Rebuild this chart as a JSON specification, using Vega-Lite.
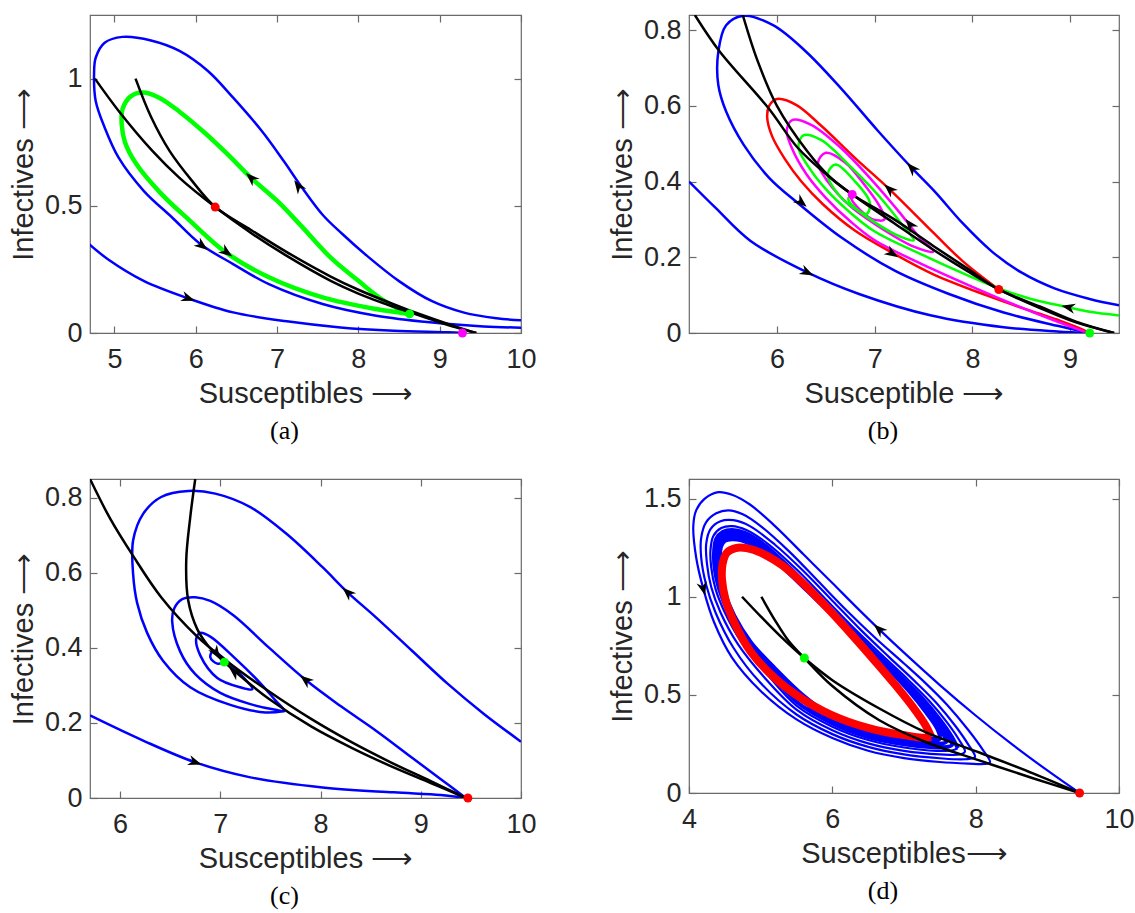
{
"$schema": "https://vega.github.io/schema/vega-lite/v6.json",
"background": "white",
"padding": {"left": 8, "top": 13, "right": 2, "bottom": 2},
"columns": 2,
"spacing": {"row": 146, "column": 168},
"bounds": "flush",
"resolve": {"scale": {"color": "independent"}},
"config": {
  "view": {"stroke": "#6a6a6a", "strokeWidth": 1.2},
  "axis": {"grid": false, "domain": false, "tickColor": "#6a6a6a", "tickSize": -7, "tickWidth": 1.2,
    "labelFont": "Liberation Sans", "labelFontSize": 27, "labelColor": "#262626", "labelFlush": false,
    "titleFont": "Liberation Sans", "titleFontSize": 29, "titleFontWeight": "normal", "titleColor": "#262626"},
  "title": {"font": "Liberation Serif", "fontSize": 26, "fontWeight": "normal", "color": "#000000", "orient": "bottom", "offset": 10, "frame": "group", "anchor": "middle", "dx": -21}
},
"datasets": {
"a_lines": [
{"c":"B1","s":10,"i":0.05},{"c":"B1","s":9.7,"i":0.058},{"c":"B1","s":9.3,"i":0.08},{"c":"B1","s":8.9,"i":0.126},{"c":"B1","s":8.5,"i":0.204},{"c":"B1","s":8.1,"i":0.305},{"c":"B1","s":7.8,"i":0.39},{"c":"B1","s":7.56,"i":0.465},{"c":"B1","s":7.3,"i":0.575},{"c":"B1","s":7.08,"i":0.677},{"c":"B1","s":6.81,"i":0.795},{"c":"B1","s":6.46,"i":0.925},{"c":"B1","s":6.15,"i":1.03},{"c":"B1","s":5.8,"i":1.109},{"c":"B1","s":5.45,"i":1.15},{"c":"B1","s":5.1,"i":1.164},{"c":"B1","s":4.88,"i":1.141},{"c":"B1","s":4.77,"i":1.082},{"c":"B1","s":4.75,"i":1.017},{"c":"B1","s":4.77,"i":0.912},{"c":"B1","s":4.88,"i":0.808},{"c":"B1","s":5.05,"i":0.69},{"c":"B1","s":5.36,"i":0.559},{"c":"B1","s":5.71,"i":0.454},{"c":"B1","s":6.06,"i":0.349},{"c":"B1","s":6.46,"i":0.271},{"c":"B1","s":6.9,"i":0.192},{"c":"B1","s":7.56,"i":0.114},{"c":"B1","s":8.22,"i":0.068},{"c":"B1","s":8.88,"i":0.042},{"c":"B1","s":9.54,"i":0.026},{"c":"B1","s":10,"i":0.021},
{"c":"B2","s":4.69,"i":0.349},{"c":"B2","s":4.92,"i":0.29},{"c":"B2","s":5.36,"i":0.205},{"c":"B2","s":5.91,"i":0.136},{"c":"B2","s":6.46,"i":0.081},{"c":"B2","s":7.12,"i":0.046},{"c":"B2","s":7.78,"i":0.022},{"c":"B2","s":8.44,"i":0.009},{"c":"B2","s":9.1,"i":0.003},{"c":"B2","s":9.28,"i":0},
{"c":"G","s":8.62,"i":0.075},{"c":"G","s":8.3,"i":0.13},{"c":"G","s":8.0,"i":0.205},{"c":"G","s":7.66,"i":0.296},{"c":"G","s":7.3,"i":0.42},{"c":"G","s":7.0,"i":0.52},{"c":"G","s":6.68,"i":0.61},{"c":"G","s":6.4,"i":0.7},{"c":"G","s":6.1,"i":0.79},{"c":"G","s":5.8,"i":0.87},{"c":"G","s":5.55,"i":0.925},{"c":"G","s":5.35,"i":0.945},{"c":"G","s":5.2,"i":0.93},{"c":"G","s":5.1,"i":0.88},{"c":"G","s":5.09,"i":0.82},{"c":"G","s":5.13,"i":0.75},{"c":"G","s":5.27,"i":0.664},{"c":"G","s":5.58,"i":0.546},{"c":"G","s":5.93,"i":0.441},{"c":"G","s":6.37,"i":0.317},{"c":"G","s":6.9,"i":0.219},{"c":"G","s":7.56,"i":0.14},{"c":"G","s":8.22,"i":0.094},{"c":"G","s":8.62,"i":0.075},
{"c":"K1","s":4.76,"i":1.0},{"c":"K1","s":5.06,"i":0.87},{"c":"K1","s":5.47,"i":0.715},{"c":"K1","s":5.8,"i":0.61},{"c":"K1","s":6.24,"i":0.495},{"c":"K1","s":6.68,"i":0.393},{"c":"K1","s":7.12,"i":0.303},{"c":"K1","s":7.66,"i":0.205},{"c":"K1","s":8.0,"i":0.155},{"c":"K1","s":8.44,"i":0.102},{"c":"K1","s":8.62,"i":0.083},{"c":"K1","s":8.88,"i":0.055},{"c":"K1","s":9.2,"i":0.022},{"c":"K1","s":9.45,"i":0},
{"c":"K2","s":5.26,"i":1.0},{"c":"K2","s":5.45,"i":0.85},{"c":"K2","s":5.68,"i":0.715},{"c":"K2","s":5.95,"i":0.6},{"c":"K2","s":6.24,"i":0.495},{"c":"K2","s":6.68,"i":0.405},{"c":"K2","s":7.12,"i":0.318},{"c":"K2","s":7.66,"i":0.222},{"c":"K2","s":8.0,"i":0.17},{"c":"K2","s":8.44,"i":0.112},{"c":"K2","s":8.62,"i":0.09},{"c":"K2","s":8.88,"i":0.06},{"c":"K2","s":9.2,"i":0.025},{"c":"K2","s":9.45,"i":0}
],
"a_pts": [{"p":"P1","s":6.24,"i":0.495},{"p":"P2","s":8.63,"i":0.075},{"p":"P3","s":9.28,"i":0}],
"a_arrows": [{"s":7.26,"i":0.578,"dir":235},{"s":6.68,"i":0.61,"dir":223},{"s":6.08,"i":0.343,"dir":37},{"s":6.38,"i":0.317,"dir":36},{"s":5.91,"i":0.136,"dir":19}],
"b_lines": [
{"c":"BO","s":9.5,"i":0.073},{"c":"BO","s":9.2,"i":0.09},{"c":"BO","s":8.84,"i":0.118},{"c":"BO","s":8.5,"i":0.16},{"c":"BO","s":8.2,"i":0.215},{"c":"BO","s":7.9,"i":0.29},{"c":"BO","s":7.62,"i":0.372},{"c":"BO","s":7.38,"i":0.436},{"c":"BO","s":7.03,"i":0.535},{"c":"BO","s":6.66,"i":0.645},{"c":"BO","s":6.29,"i":0.745},{"c":"BO","s":5.96,"i":0.813},{"c":"BO","s":5.66,"i":0.838},{"c":"BO","s":5.48,"i":0.813},{"c":"BO","s":5.4,"i":0.743},{"c":"BO","s":5.4,"i":0.655},{"c":"BO","s":5.48,"i":0.585},{"c":"BO","s":5.66,"i":0.497},{"c":"BO","s":5.92,"i":0.41},{"c":"BO","s":6.21,"i":0.344},{"c":"BO","s":6.66,"i":0.252},{"c":"BO","s":7.21,"i":0.164},{"c":"BO","s":7.76,"i":0.103},{"c":"BO","s":8.32,"i":0.054},{"c":"BO","s":8.87,"i":0.019},{"c":"BO","s":9.2,"i":0},
{"c":"BB","s":5.1,"i":0.4},{"c":"BB","s":5.37,"i":0.331},{"c":"BB","s":5.73,"i":0.243},{"c":"BB","s":6.31,"i":0.16},{"c":"BB","s":6.84,"i":0.103},{"c":"BB","s":7.58,"i":0.046},{"c":"BB","s":8.32,"i":0.015},{"c":"BB","s":8.87,"i":0.004},{"c":"BB","s":9.2,"i":0},
{"c":"R","s":8.27,"i":0.115},{"c":"R","s":7.9,"i":0.19},{"c":"R","s":7.6,"i":0.265},{"c":"R","s":7.15,"i":0.38},{"c":"R","s":6.8,"i":0.462},{"c":"R","s":6.45,"i":0.548},{"c":"R","s":6.2,"i":0.602},{"c":"R","s":6.0,"i":0.618},{"c":"R","s":5.92,"i":0.6},{"c":"R","s":5.9,"i":0.57},{"c":"R","s":5.95,"i":0.52},{"c":"R","s":6.08,"i":0.46},{"c":"R","s":6.25,"i":0.4},{"c":"R","s":6.47,"i":0.34},{"c":"R","s":6.8,"i":0.27},{"c":"R","s":7.18,"i":0.212},{"c":"R","s":7.6,"i":0.155},{"c":"R","s":8.16,"i":0.098},{"c":"R","s":8.6,"i":0.058},{"c":"R","s":8.9,"i":0.032},{"c":"R","s":9.1,"i":0.012},{"c":"R","s":9.2,"i":0},
{"c":"M","s":9.15,"i":0.003},{"c":"M","s":8.8,"i":0.037},{"c":"M","s":8.4,"i":0.078},{"c":"M","s":8.0,"i":0.122},{"c":"M","s":7.5,"i":0.18},{"c":"M","s":7.0,"i":0.245},{"c":"M","s":6.75,"i":0.295},{"c":"M","s":6.5,"i":0.357},{"c":"M","s":6.3,"i":0.42},{"c":"M","s":6.15,"i":0.49},{"c":"M","s":6.1,"i":0.535},{"c":"M","s":6.16,"i":0.563},{"c":"M","s":6.35,"i":0.55},{"c":"M","s":6.65,"i":0.49},{"c":"M","s":6.95,"i":0.41},{"c":"M","s":7.25,"i":0.32},{"c":"M","s":7.45,"i":0.255},{"c":"M","s":7.6,"i":0.215},{"c":"M","s":7.4,"i":0.228},{"c":"M","s":7.0,"i":0.288},{"c":"M","s":6.75,"i":0.335},{"c":"M","s":6.52,"i":0.4},{"c":"M","s":6.42,"i":0.45},{"c":"M","s":6.5,"i":0.476},{"c":"M","s":6.7,"i":0.45},{"c":"M","s":6.9,"i":0.39},{"c":"M","s":7.05,"i":0.335},{"c":"M","s":7.1,"i":0.3},{"c":"M","s":6.98,"i":0.3},{"c":"M","s":6.85,"i":0.325},{"c":"M","s":6.76,"i":0.355},{"c":"M","s":6.77,"i":0.366},
{"c":"G","s":9.52,"i":0.046},{"c":"G","s":9.2,"i":0.056},{"c":"G","s":8.98,"i":0.068},{"c":"G","s":8.6,"i":0.09},{"c":"G","s":8.27,"i":0.118},{"c":"G","s":7.9,"i":0.158},{"c":"G","s":7.5,"i":0.205},{"c":"G","s":7.0,"i":0.268},{"c":"G","s":6.75,"i":0.318},{"c":"G","s":6.5,"i":0.38},{"c":"G","s":6.32,"i":0.44},{"c":"G","s":6.22,"i":0.49},{"c":"G","s":6.27,"i":0.522},{"c":"G","s":6.45,"i":0.51},{"c":"G","s":6.75,"i":0.44},{"c":"G","s":7.05,"i":0.36},{"c":"G","s":7.3,"i":0.28},{"c":"G","s":7.4,"i":0.245},{"c":"G","s":7.2,"i":0.262},{"c":"G","s":6.9,"i":0.31},{"c":"G","s":6.65,"i":0.36},{"c":"G","s":6.52,"i":0.42},{"c":"G","s":6.6,"i":0.445},{"c":"G","s":6.8,"i":0.4},{"c":"G","s":6.95,"i":0.345},{"c":"G","s":6.92,"i":0.315},{"c":"G","s":6.8,"i":0.33},{"c":"G","s":6.73,"i":0.355},{"c":"G","s":6.77,"i":0.366},
{"c":"K1","s":5.16,"i":0.84},{"c":"K1","s":5.41,"i":0.745},{"c":"K1","s":5.91,"i":0.595},{"c":"K1","s":6.21,"i":0.49},{"c":"K1","s":6.5,"i":0.42},{"c":"K1","s":6.77,"i":0.366},{"c":"K1","s":7.2,"i":0.29},{"c":"K1","s":7.6,"i":0.22},{"c":"K1","s":7.95,"i":0.163},{"c":"K1","s":8.27,"i":0.115},{"c":"K1","s":8.69,"i":0.066},{"c":"K1","s":9.06,"i":0.028},{"c":"K1","s":9.45,"i":0},
{"c":"K2","s":5.65,"i":0.84},{"c":"K2","s":5.8,"i":0.72},{"c":"K2","s":6.0,"i":0.6},{"c":"K2","s":6.31,"i":0.48},{"c":"K2","s":6.55,"i":0.41},{"c":"K2","s":6.77,"i":0.366},{"c":"K2","s":7.2,"i":0.3},{"c":"K2","s":7.6,"i":0.23},{"c":"K2","s":7.95,"i":0.17},{"c":"K2","s":8.27,"i":0.115},{"c":"K2","s":8.69,"i":0.07},{"c":"K2","s":9.06,"i":0.03},{"c":"K2","s":9.45,"i":0}
],
"b_pts": [{"p":"P1","s":8.27,"i":0.115},{"p":"P2","s":6.77,"i":0.366},{"p":"P3","s":9.2,"i":0}],
"b_arrows": [{"s":7.38,"i":0.436,"dir":227},{"s":6.25,"i":0.345,"dir":40},{"s":6.31,"i":0.16,"dir":26},{"s":7.15,"i":0.38,"dir":223},{"s":7.18,"i":0.21,"dir":32},{"s":7.36,"i":0.287,"dir":232},{"s":8.98,"i":0.068,"dir":192}],
"c_lines": [
{"c":"T1","s":10,"i":0.15},{"c":"T1","s":9.63,"i":0.224},{"c":"T1","s":9.27,"i":0.304},{"c":"T1","s":8.91,"i":0.393},{"c":"T1","s":8.55,"i":0.482},{"c":"T1","s":8.27,"i":0.548},{"c":"T1","s":8.02,"i":0.615},{"c":"T1","s":7.66,"i":0.704},{"c":"T1","s":7.3,"i":0.775},{"c":"T1","s":6.95,"i":0.811},{"c":"T1","s":6.68,"i":0.818},{"c":"T1","s":6.41,"i":0.802},{"c":"T1","s":6.23,"i":0.757},{"c":"T1","s":6.13,"i":0.686},{"c":"T1","s":6.13,"i":0.597},{"c":"T1","s":6.17,"i":0.52},{"c":"T1","s":6.27,"i":0.44},{"c":"T1","s":6.43,"i":0.365},{"c":"T1","s":6.7,"i":0.295},{"c":"T1","s":7.1,"i":0.248},{"c":"T1","s":7.45,"i":0.228},{"c":"T1","s":7.64,"i":0.232},
{"c":"T2","s":9.45,"i":0},{"c":"T2","s":9.2,"i":0.05},{"c":"T2","s":8.9,"i":0.11},{"c":"T2","s":8.55,"i":0.18},{"c":"T2","s":8.2,"i":0.245},{"c":"T2","s":7.85,"i":0.315},{"c":"T2","s":7.48,"i":0.402},{"c":"T2","s":7.13,"i":0.487},{"c":"T2","s":6.9,"i":0.525},{"c":"T2","s":6.75,"i":0.535},{"c":"T2","s":6.62,"i":0.53},{"c":"T2","s":6.54,"i":0.505},{"c":"T2","s":6.52,"i":0.47},{"c":"T2","s":6.6,"i":0.39},{"c":"T2","s":6.75,"i":0.33},{"c":"T2","s":7.0,"i":0.28},{"c":"T2","s":7.3,"i":0.25},{"c":"T2","s":7.55,"i":0.235},{"c":"T2","s":7.64,"i":0.232},{"c":"T2","s":7.55,"i":0.26},{"c":"T2","s":7.41,"i":0.303},{"c":"T2","s":7.14,"i":0.374},{"c":"T2","s":6.9,"i":0.43},{"c":"T2","s":6.8,"i":0.44},{"c":"T2","s":6.76,"i":0.425},{"c":"T2","s":6.8,"i":0.38},{"c":"T2","s":6.97,"i":0.32},{"c":"T2","s":7.2,"i":0.295},{"c":"T2","s":7.32,"i":0.29},{"c":"T2","s":7.17,"i":0.338},{"c":"T2","s":7.0,"i":0.38},{"c":"T2","s":6.93,"i":0.393},{"c":"T2","s":6.9,"i":0.375},{"c":"T2","s":6.97,"i":0.358},{"c":"T2","s":7.04,"i":0.362},
{"c":"BB","s":5.7,"i":0.22},{"c":"BB","s":6.23,"i":0.153},{"c":"BB","s":6.75,"i":0.095},{"c":"BB","s":7.3,"i":0.055},{"c":"BB","s":8.02,"i":0.028},{"c":"BB","s":8.73,"i":0.015},{"c":"BB","s":9.2,"i":0.008},{"c":"BB","s":9.45,"i":0},
{"c":"K1","s":5.7,"i":0.85},{"c":"K1","s":5.9,"i":0.745},{"c":"K1","s":6.13,"i":0.645},{"c":"K1","s":6.41,"i":0.535},{"c":"K1","s":6.77,"i":0.43},{"c":"K1","s":7.04,"i":0.37},{"c":"K1","s":7.48,"i":0.285},{"c":"K1","s":7.91,"i":0.21},{"c":"K1","s":8.3,"i":0.15},{"c":"K1","s":8.7,"i":0.095},{"c":"K1","s":9.1,"i":0.045},{"c":"K1","s":9.45,"i":0},
{"c":"K2","s":6.75,"i":0.85},{"c":"K2","s":6.7,"i":0.748},{"c":"K2","s":6.66,"i":0.633},{"c":"K2","s":6.68,"i":0.526},{"c":"K2","s":6.77,"i":0.45},{"c":"K2","s":6.88,"i":0.405},{"c":"K2","s":6.97,"i":0.38},{"c":"K2","s":7.04,"i":0.362},
{"c":"K3","s":7.04,"i":0.362},{"c":"K3","s":7.2,"i":0.325},{"c":"K3","s":7.48,"i":0.265},{"c":"K3","s":7.91,"i":0.19},{"c":"K3","s":8.3,"i":0.135},{"c":"K3","s":8.7,"i":0.085},{"c":"K3","s":9.1,"i":0.04},{"c":"K3","s":9.45,"i":0}
],
"c_pts": [{"p":"P1","s":7.04,"i":0.362},{"p":"P2","s":9.47,"i":0}],
"c_arrows": [{"s":8.27,"i":0.548,"dir":223},{"s":7.85,"i":0.315,"dir":219},{"s":6.75,"i":0.095,"dir":19},{"s":6.96,"i":0.386,"dir":57},{"s":7.14,"i":0.336,"dir":221}],
"d_lines": [
{"c":"S1","s":9.45,"i":0},{"c":"S1","s":9.0,"i":0.115},{"c":"S1","s":8.5,"i":0.25},{"c":"S1","s":8.0,"i":0.395},{"c":"S1","s":7.5,"i":0.55},{"c":"S1","s":7.0,"i":0.715},{"c":"S1","s":6.65,"i":0.835},{"c":"S1","s":6.3,"i":0.96},{"c":"S1","s":6.0,"i":1.07},{"c":"S1","s":5.6,"i":1.215},{"c":"S1","s":5.2,"i":1.36},{"c":"S1","s":4.85,"i":1.47},{"c":"S1","s":4.6,"i":1.52},{"c":"S1","s":4.41,"i":1.533},{"c":"S1","s":4.22,"i":1.5},{"c":"S1","s":4.1,"i":1.44},{"c":"S1","s":4.06,"i":1.36},{"c":"S1","s":4.1,"i":1.2},{"c":"S1","s":4.2,"i":1.04},{"c":"S1","s":4.35,"i":0.87},{"c":"S1","s":4.6,"i":0.69},{"c":"S1","s":5.0,"i":0.52},{"c":"S1","s":5.5,"i":0.375},{"c":"S1","s":6.0,"i":0.28},{"c":"S1","s":6.5,"i":0.215},{"c":"S1","s":7.0,"i":0.178},{"c":"S1","s":7.5,"i":0.158},{"c":"S1","s":7.9,"i":0.15},{"c":"S1","s":8.12,"i":0.148},{"c":"S1","s":8.2,"i":0.156},
{"c":"S1","s":8.1,"i":0.22},{"c":"S1","s":7.9,"i":0.32},{"c":"S1","s":7.6,"i":0.45},{"c":"S1","s":7.3,"i":0.56},{"c":"S1","s":7.0,"i":0.66},{"c":"S1","s":6.6,"i":0.79},{"c":"S1","s":6.2,"i":0.93},{"c":"S1","s":5.8,"i":1.08},{"c":"S1","s":5.4,"i":1.23},{"c":"S1","s":5.0,"i":1.36},{"c":"S1","s":4.75,"i":1.42},{"c":"S1","s":4.55,"i":1.44},{"c":"S1","s":4.38,"i":1.425},{"c":"S1","s":4.24,"i":1.38},{"c":"S1","s":4.17,"i":1.3},{"c":"S1","s":4.17,"i":1.2},{"c":"S1","s":4.24,"i":1.06},{"c":"S1","s":4.37,"i":0.92},{"c":"S1","s":4.62,"i":0.74},{"c":"S1","s":5.0,"i":0.56},{"c":"S1","s":5.5,"i":0.4},{"c":"S1","s":6.0,"i":0.3},{"c":"S1","s":6.5,"i":0.235},{"c":"S1","s":7.0,"i":0.197},{"c":"S1","s":7.5,"i":0.177},{"c":"S1","s":7.85,"i":0.172},{"c":"S1","s":7.99,"i":0.183},
{"c":"S1","s":7.9,"i":0.245},{"c":"S1","s":7.72,"i":0.34},{"c":"S1","s":7.45,"i":0.46},{"c":"S1","s":7.15,"i":0.57},{"c":"S1","s":6.8,"i":0.69},{"c":"S1","s":6.4,"i":0.83},{"c":"S1","s":6.0,"i":0.98},{"c":"S1","s":5.6,"i":1.13},{"c":"S1","s":5.2,"i":1.265},{"c":"S1","s":4.85,"i":1.36},{"c":"S1","s":4.62,"i":1.39},{"c":"S1","s":4.44,"i":1.385},{"c":"S1","s":4.3,"i":1.345},{"c":"S1","s":4.24,"i":1.27},{"c":"S1","s":4.25,"i":1.17},{"c":"S1","s":4.31,"i":1.05},{"c":"S1","s":4.44,"i":0.92},{"c":"S1","s":4.68,"i":0.76},{"c":"S1","s":5.05,"i":0.59},{"c":"S1","s":5.5,"i":0.425},{"c":"S1","s":6.0,"i":0.32},{"c":"S1","s":6.5,"i":0.253},{"c":"S1","s":7.0,"i":0.215},{"c":"S1","s":7.5,"i":0.197},{"c":"S1","s":7.78,"i":0.196},{"c":"S1","s":7.85,"i":0.21},
{"c":"S1","s":7.77,"i":0.27},{"c":"S1","s":7.6,"i":0.36},{"c":"S1","s":7.35,"i":0.47},{"c":"S1","s":7.05,"i":0.58},{"c":"S1","s":6.7,"i":0.7},{"c":"S1","s":6.3,"i":0.84},{"c":"S1","s":5.9,"i":0.99},{"c":"S1","s":5.5,"i":1.14},{"c":"S1","s":5.1,"i":1.27},{"c":"S1","s":4.8,"i":1.34},{"c":"S1","s":4.6,"i":1.36},{"c":"S1","s":4.45,"i":1.35},{"c":"S1","s":4.34,"i":1.31},{"c":"S1","s":4.3,"i":1.24},{"c":"S1","s":4.31,"i":1.15},{"c":"S1","s":4.37,"i":1.04},{"c":"S1","s":4.5,"i":0.92},{"c":"S1","s":4.73,"i":0.77},{"c":"S1","s":5.08,"i":0.61},{"c":"S1","s":5.5,"i":0.445},{"c":"S1","s":6.0,"i":0.338},{"c":"S1","s":6.5,"i":0.27},{"c":"S1","s":7.0,"i":0.232},{"c":"S1","s":7.45,"i":0.215},{"c":"S1","s":7.68,"i":0.218},{"c":"S1","s":7.75,"i":0.228},
{"c":"S2","s":7.75,"i":0.228},{"c":"S2","s":7.67,"i":0.285},{"c":"S2","s":7.5,"i":0.375},{"c":"S2","s":7.25,"i":0.485},{"c":"S2","s":6.95,"i":0.595},{"c":"S2","s":6.6,"i":0.715},{"c":"S2","s":6.2,"i":0.855},{"c":"S2","s":5.8,"i":1.0},{"c":"S2","s":5.4,"i":1.15},{"c":"S2","s":5.05,"i":1.265},{"c":"S2","s":4.78,"i":1.325},{"c":"S2","s":4.6,"i":1.34},{"c":"S2","s":4.47,"i":1.33},{"c":"S2","s":4.38,"i":1.295},{"c":"S2","s":4.35,"i":1.23},{"c":"S2","s":4.36,"i":1.14},{"c":"S2","s":4.42,"i":1.04},{"c":"S2","s":4.55,"i":0.92},{"c":"S2","s":4.78,"i":0.775},{"c":"S2","s":5.12,"i":0.62},{"c":"S2","s":5.5,"i":0.465},{"c":"S2","s":6.0,"i":0.355},{"c":"S2","s":6.5,"i":0.285},{"c":"S2","s":7.0,"i":0.248},{"c":"S2","s":7.4,"i":0.233},{"c":"S2","s":7.6,"i":0.235},{"c":"S2","s":7.67,"i":0.245},
{"c":"S2","s":7.59,"i":0.3},{"c":"S2","s":7.42,"i":0.39},{"c":"S2","s":7.17,"i":0.5},{"c":"S2","s":6.88,"i":0.61},{"c":"S2","s":6.53,"i":0.73},{"c":"S2","s":6.13,"i":0.87},{"c":"S2","s":5.73,"i":1.015},{"c":"S2","s":5.33,"i":1.16},{"c":"S2","s":5.0,"i":1.26},{"c":"S2","s":4.76,"i":1.31},{"c":"S2","s":4.6,"i":1.322},{"c":"S2","s":4.48,"i":1.312},{"c":"S2","s":4.41,"i":1.28},{"c":"S2","s":4.38,"i":1.22},{"c":"S2","s":4.39,"i":1.13},{"c":"S2","s":4.45,"i":1.03},{"c":"S2","s":4.58,"i":0.915},{"c":"S2","s":4.81,"i":0.775},{"c":"S2","s":5.15,"i":0.63},{"c":"S2","s":5.55,"i":0.48},{"c":"S2","s":6.0,"i":0.37},{"c":"S2","s":6.5,"i":0.298},{"c":"S2","s":7.0,"i":0.262},{"c":"S2","s":7.35,"i":0.25},{"c":"S2","s":7.53,"i":0.252},{"c":"S2","s":7.59,"i":0.262},
{"c":"S2","s":7.52,"i":0.315},{"c":"S2","s":7.36,"i":0.4},{"c":"S2","s":7.12,"i":0.51},{"c":"S2","s":6.83,"i":0.62},{"c":"S2","s":6.48,"i":0.74},{"c":"S2","s":6.08,"i":0.88},{"c":"S2","s":5.68,"i":1.02},{"c":"S2","s":5.28,"i":1.165},{"c":"S2","s":4.97,"i":1.255},{"c":"S2","s":4.74,"i":1.297},{"c":"S2","s":4.6,"i":1.306},{"c":"S2","s":4.49,"i":1.297},{"c":"S2","s":4.43,"i":1.268},{"c":"S2","s":4.41,"i":1.21},{"c":"S2","s":4.42,"i":1.125},{"c":"S2","s":4.48,"i":1.025},{"c":"S2","s":4.61,"i":0.91},{"c":"S2","s":4.84,"i":0.775},{"c":"S2","s":5.18,"i":0.635},{"c":"S2","s":5.58,"i":0.49},{"c":"S2","s":6.0,"i":0.38},{"c":"S2","s":6.5,"i":0.31},{"c":"S2","s":7.0,"i":0.274},{"c":"S2","s":7.3,"i":0.265},{"c":"S2","s":7.46,"i":0.267},{"c":"S2","s":7.5,"i":0.277},
{"c":"S2","s":7.46,"i":0.33},{"c":"S2","s":7.31,"i":0.41},{"c":"S2","s":7.08,"i":0.515},{"c":"S2","s":6.8,"i":0.625},{"c":"S2","s":6.45,"i":0.75},{"c":"S2","s":6.05,"i":0.89},{"c":"S2","s":5.65,"i":1.03},{"c":"S2","s":5.26,"i":1.165},{"c":"S2","s":4.95,"i":1.25},{"c":"S2","s":4.73,"i":1.287},{"c":"S2","s":4.6,"i":1.293},{"c":"S2","s":4.5,"i":1.285},{"c":"S2","s":4.45,"i":1.258},{"c":"S2","s":4.43,"i":1.2},{"c":"S2","s":4.44,"i":1.12},{"c":"S2","s":4.5,"i":1.02},{"c":"S2","s":4.63,"i":0.905},{"c":"S2","s":4.86,"i":0.77},{"c":"S2","s":5.2,"i":0.635},{"c":"S2","s":5.6,"i":0.495},{"c":"S2","s":6.0,"i":0.39},{"c":"S2","s":6.5,"i":0.318},{"c":"S2","s":7.0,"i":0.284},{"c":"S2","s":7.3,"i":0.275},{"c":"S2","s":7.42,"i":0.278},{"c":"S2","s":7.45,"i":0.29},
{"c":"R","s":7.38,"i":0.285},{"c":"R","s":7.3,"i":0.345},{"c":"R","s":7.12,"i":0.44},{"c":"R","s":6.88,"i":0.55},{"c":"R","s":6.6,"i":0.67},{"c":"R","s":6.3,"i":0.795},{"c":"R","s":5.95,"i":0.935},{"c":"R","s":5.6,"i":1.065},{"c":"R","s":5.3,"i":1.16},{"c":"R","s":5.0,"i":1.225},{"c":"R","s":4.8,"i":1.248},{"c":"R","s":4.65,"i":1.248},{"c":"R","s":4.53,"i":1.225},{"c":"R","s":4.47,"i":1.17},{"c":"R","s":4.46,"i":1.09},{"c":"R","s":4.51,"i":0.985},{"c":"R","s":4.63,"i":0.87},{"c":"R","s":4.86,"i":0.72},{"c":"R","s":5.2,"i":0.585},{"c":"R","s":5.6,"i":0.475},{"c":"R","s":6.1,"i":0.38},{"c":"R","s":6.6,"i":0.322},{"c":"R","s":7.0,"i":0.295},{"c":"R","s":7.25,"i":0.282},{"c":"R","s":7.38,"i":0.285},
{"c":"KA","s":4.74,"i":1.0},{"c":"KA","s":5.0,"i":0.9},{"c":"KA","s":5.3,"i":0.79},{"c":"KA","s":5.62,"i":0.684},{"c":"KA","s":6.0,"i":0.575},{"c":"KA","s":6.65,"i":0.432},{"c":"KA","s":7.3,"i":0.31},{"c":"KA","s":8.06,"i":0.205},{"c":"KA","s":8.8,"i":0.1},{"c":"KA","s":9.45,"i":0},
{"c":"KB","s":5.01,"i":1.0},{"c":"KB","s":5.2,"i":0.88},{"c":"KB","s":5.4,"i":0.77},{"c":"KB","s":5.62,"i":0.684},{"c":"KB","s":6.0,"i":0.545},{"c":"KB","s":6.65,"i":0.372},{"c":"KB","s":7.3,"i":0.26},{"c":"KB","s":8.06,"i":0.165},{"c":"KB","s":8.8,"i":0.075},{"c":"KB","s":9.45,"i":0}
],
"d_pts": [{"p":"P1","s":5.61,"i":0.688},{"p":"P2","s":9.45,"i":0}],
"d_arrows": [{"s":6.65,"i":0.835,"dir":223},{"s":4.2,"i":1.04,"dir":75}]
},
"concat": [
{
"width": 431, "height": 318,
"title": {"text": "(a)"},
"data": {"name": "a_lines"},
"encoding": {
  "x": {"field": "s", "type": "quantitative", "scale": {"domain": [4.7, 10], "nice": false, "zero": false}, "axis": null},
  "y": {"field": "i", "type": "quantitative", "scale": {"domain": [0, 1.25], "nice": false, "zero": false}, "axis": null}
},
"layer": [
  {"transform": [{"filter": {"field": "c", "oneOf": ["B1", "B2"]}}],
   "mark": {"type": "line", "color": "#0000ff", "strokeWidth": 2.5, "interpolate": "catmull-rom", "clip": true},
   "encoding": {
     "x": {"field": "s", "type": "quantitative", "scale": {"domain": [4.7, 10], "nice": false, "zero": false}, "axis": {"orient": "bottom", "values": [5, 6, 7, 8, 9, 10], "title": "Susceptibles ⟶", "titleY": 46, "titleBaseline": "top", "labelPadding": 20}},
     "y": {"field": "i", "type": "quantitative", "scale": {"domain": [0, 1.25], "nice": false, "zero": false}, "axis": {"orient": "left", "values": [0, 0.5, 1], "format": "~g", "title": "Infectives ⟶", "titleX": -52, "titleAngle": 270, "titleBaseline": "bottom", "labelPadding": 15}},
     "detail": {"field": "c"}, "order": {"value": null}}},
  {"transform": [{"filter": {"field": "c", "oneOf": ["G"]}}],
   "mark": {"type": "line", "color": "#00ff00", "strokeWidth": 4.5, "interpolate": "catmull-rom", "clip": true},
   "encoding": {"detail": {"field": "c"}, "order": {"value": null}}},
  {"transform": [{"filter": {"field": "c", "oneOf": ["K1", "K2"]}}],
   "mark": {"type": "line", "color": "#000000", "strokeWidth": 2.5, "interpolate": "catmull-rom", "clip": true},
   "encoding": {"detail": {"field": "c"}, "order": {"value": null}}},
  {"data": {"name": "a_pts"},
   "mark": {"type": "point", "filled": true, "size": 80, "opacity": 1},
   "encoding": {
     "x": {"field": "s", "type": "quantitative", "scale": {"domain": [4.7, 10], "nice": false, "zero": false}, "axis": {"orient": "top", "values": [5, 6, 7, 8, 9, 10], "labels": false, "title": null}},
     "y": {"field": "i", "type": "quantitative", "scale": {"domain": [0, 1.25], "nice": false, "zero": false}, "axis": {"orient": "right", "values": [0, 0.5, 1], "labels": false, "title": null}},
     "color": {"field": "p", "type": "nominal", "scale": {"domain": ["P1", "P2", "P3"], "range": ["#ff0000", "#00ff00", "#ff00ff"]}, "legend": null}}},
  {"data": {"name": "a_arrows"},
   "mark": {"type": "point", "filled": true, "shape": "M1,0L-1,-0.75L-0.4,0L-1,0.75Z", "size": 190, "color": "#000000", "opacity": 1, "strokeWidth": 0},
   "encoding": {"angle": {"field": "dir", "type": "quantitative", "scale": null}}}
]
},
{
"width": 430, "height": 318,
"title": {"text": "(b)"},
"data": {"name": "b_lines"},
"encoding": {
  "x": {"field": "s", "type": "quantitative", "scale": {"domain": [5.1, 9.5], "nice": false, "zero": false}, "axis": null},
  "y": {"field": "i", "type": "quantitative", "scale": {"domain": [0, 0.84], "nice": false, "zero": false}, "axis": null}
},
"layer": [
  {"transform": [{"filter": {"field": "c", "oneOf": ["BO", "BB"]}}],
   "mark": {"type": "line", "color": "#0000ff", "strokeWidth": 2.5, "interpolate": "catmull-rom", "clip": true},
   "encoding": {
     "x": {"field": "s", "type": "quantitative", "scale": {"domain": [5.1, 9.5], "nice": false, "zero": false}, "axis": {"orient": "bottom", "values": [6, 7, 8, 9], "title": "Susceptible ⟶", "titleY": 46, "titleBaseline": "top", "labelPadding": 20}},
     "y": {"field": "i", "type": "quantitative", "scale": {"domain": [0, 0.84], "nice": false, "zero": false}, "axis": {"orient": "left", "values": [0, 0.2, 0.4, 0.6, 0.8], "format": "~g", "title": "Infectives ⟶", "titleX": -52, "titleAngle": 270, "titleBaseline": "bottom", "labelPadding": 15}},
     "detail": {"field": "c"}, "order": {"value": null}}},
  {"transform": [{"filter": {"field": "c", "oneOf": ["R"]}}],
   "mark": {"type": "line", "color": "#ff0000", "strokeWidth": 2.5, "interpolate": "catmull-rom", "clip": true},
   "encoding": {"detail": {"field": "c"}, "order": {"value": null}}},
  {"transform": [{"filter": {"field": "c", "oneOf": ["M"]}}],
   "mark": {"type": "line", "color": "#ff00ff", "strokeWidth": 2.5, "interpolate": "catmull-rom", "clip": true},
   "encoding": {"detail": {"field": "c"}, "order": {"value": null}}},
  {"transform": [{"filter": {"field": "c", "oneOf": ["G"]}}],
   "mark": {"type": "line", "color": "#00ff00", "strokeWidth": 2.5, "interpolate": "catmull-rom", "clip": true},
   "encoding": {"detail": {"field": "c"}, "order": {"value": null}}},
  {"transform": [{"filter": {"field": "c", "oneOf": ["K1", "K2"]}}],
   "mark": {"type": "line", "color": "#000000", "strokeWidth": 2.5, "interpolate": "catmull-rom", "clip": true},
   "encoding": {"detail": {"field": "c"}, "order": {"value": null}}},
  {"data": {"name": "b_pts"},
   "mark": {"type": "point", "filled": true, "size": 80, "opacity": 1},
   "encoding": {
     "x": {"field": "s", "type": "quantitative", "scale": {"domain": [5.1, 9.5], "nice": false, "zero": false}, "axis": {"orient": "top", "values": [6, 7, 8, 9], "labels": false, "title": null}},
     "y": {"field": "i", "type": "quantitative", "scale": {"domain": [0, 0.84], "nice": false, "zero": false}, "axis": {"orient": "right", "values": [0, 0.2, 0.4, 0.6, 0.8], "labels": false, "title": null}},
     "color": {"field": "p", "type": "nominal", "scale": {"domain": ["P1", "P2", "P3"], "range": ["#ff0000", "#ff00ff", "#00ff00"]}, "legend": null}}},
  {"data": {"name": "b_arrows"},
   "mark": {"type": "point", "filled": true, "shape": "M1,0L-1,-0.75L-0.4,0L-1,0.75Z", "size": 190, "color": "#000000", "opacity": 1, "strokeWidth": 0},
   "encoding": {"angle": {"field": "dir", "type": "quantitative", "scale": null}}}
]
},
{
"width": 431, "height": 319,
"title": {"text": "(c)"},
"data": {"name": "c_lines"},
"encoding": {
  "x": {"field": "s", "type": "quantitative", "scale": {"domain": [5.7, 10], "nice": false, "zero": false}, "axis": null},
  "y": {"field": "i", "type": "quantitative", "scale": {"domain": [0, 0.85], "nice": false, "zero": false}, "axis": null}
},
"layer": [
  {"transform": [{"filter": {"field": "c", "oneOf": ["T1", "T2", "BB"]}}],
   "mark": {"type": "line", "color": "#0000ff", "strokeWidth": 2.5, "interpolate": "catmull-rom", "clip": true},
   "encoding": {
     "x": {"field": "s", "type": "quantitative", "scale": {"domain": [5.7, 10], "nice": false, "zero": false}, "axis": {"orient": "bottom", "values": [6, 7, 8, 9, 10], "title": "Susceptibles ⟶", "titleY": 46, "titleBaseline": "top", "labelPadding": 20}},
     "y": {"field": "i", "type": "quantitative", "scale": {"domain": [0, 0.85], "nice": false, "zero": false}, "axis": {"orient": "left", "values": [0, 0.2, 0.4, 0.6, 0.8], "format": "~g", "title": "Infectives ⟶", "titleX": -52, "titleAngle": 270, "titleBaseline": "bottom", "labelPadding": 15}},
     "detail": {"field": "c"}, "order": {"value": null}}},
  {"transform": [{"filter": {"field": "c", "oneOf": ["K1", "K2", "K3"]}}],
   "mark": {"type": "line", "color": "#000000", "strokeWidth": 2.5, "interpolate": "catmull-rom", "clip": true},
   "encoding": {"detail": {"field": "c"}, "order": {"value": null}}},
  {"data": {"name": "c_pts"},
   "mark": {"type": "point", "filled": true, "size": 80, "opacity": 1},
   "encoding": {
     "x": {"field": "s", "type": "quantitative", "scale": {"domain": [5.7, 10], "nice": false, "zero": false}, "axis": {"orient": "top", "values": [6, 7, 8, 9, 10], "labels": false, "title": null}},
     "y": {"field": "i", "type": "quantitative", "scale": {"domain": [0, 0.85], "nice": false, "zero": false}, "axis": {"orient": "right", "values": [0, 0.2, 0.4, 0.6, 0.8], "labels": false, "title": null}},
     "color": {"field": "p", "type": "nominal", "scale": {"domain": ["P1", "P2"], "range": ["#00ff00", "#ff0000"]}, "legend": null}}},
  {"data": {"name": "c_arrows"},
   "mark": {"type": "point", "filled": true, "shape": "M1,0L-1,-0.75L-0.4,0L-1,0.75Z", "size": 190, "color": "#000000", "opacity": 1, "strokeWidth": 0},
   "encoding": {"angle": {"field": "dir", "type": "quantitative", "scale": null}}}
]
},
{
"width": 430, "height": 314,
"title": {"text": "(d)"},
"data": {"name": "d_lines"},
"encoding": {
  "x": {"field": "s", "type": "quantitative", "scale": {"domain": [4, 10], "nice": false, "zero": false}, "axis": null},
  "y": {"field": "i", "type": "quantitative", "scale": {"domain": [0, 1.6], "nice": false, "zero": false}, "axis": null}
},
"layer": [
  {"transform": [{"filter": {"field": "c", "oneOf": ["S1"]}}],
   "mark": {"type": "line", "color": "#0000ff", "strokeWidth": 2.2, "interpolate": "catmull-rom", "clip": true},
   "encoding": {
     "x": {"field": "s", "type": "quantitative", "scale": {"domain": [4, 10], "nice": false, "zero": false}, "axis": {"orient": "bottom", "values": [4, 6, 8, 10], "title": "Susceptibles⟶", "titleY": 46, "titleBaseline": "top", "labelPadding": 20}},
     "y": {"field": "i", "type": "quantitative", "scale": {"domain": [0, 1.6], "nice": false, "zero": false}, "axis": {"orient": "left", "values": [0, 0.5, 1, 1.5], "format": "~g", "title": "Infectives ⟶", "titleX": -52, "titleAngle": 270, "titleBaseline": "bottom", "labelPadding": 15}},
     "detail": {"field": "c"}, "order": {"value": null}}},
  {"transform": [{"filter": {"field": "c", "oneOf": ["S2"]}}],
   "mark": {"type": "line", "color": "#0000ff", "strokeWidth": 4, "interpolate": "catmull-rom", "clip": true},
   "encoding": {"detail": {"field": "c"}, "order": {"value": null}}},
  {"transform": [{"filter": {"field": "c", "oneOf": ["R"]}}],
   "mark": {"type": "line", "color": "#ff0000", "strokeWidth": 8, "interpolate": "catmull-rom", "clip": true},
   "encoding": {"detail": {"field": "c"}, "order": {"value": null}}},
  {"transform": [{"filter": {"field": "c", "oneOf": ["KA", "KB"]}}],
   "mark": {"type": "line", "color": "#000000", "strokeWidth": 2.5, "interpolate": "catmull-rom", "clip": true},
   "encoding": {"detail": {"field": "c"}, "order": {"value": null}}},
  {"data": {"name": "d_pts"},
   "mark": {"type": "point", "filled": true, "size": 80, "opacity": 1},
   "encoding": {
     "x": {"field": "s", "type": "quantitative", "scale": {"domain": [4, 10], "nice": false, "zero": false}, "axis": {"orient": "top", "values": [4, 6, 8, 10], "labels": false, "title": null}},
     "y": {"field": "i", "type": "quantitative", "scale": {"domain": [0, 1.6], "nice": false, "zero": false}, "axis": {"orient": "right", "values": [0, 0.5, 1, 1.5], "labels": false, "title": null}},
     "color": {"field": "p", "type": "nominal", "scale": {"domain": ["P1", "P2"], "range": ["#00ff00", "#ff0000"]}, "legend": null}}},
  {"data": {"name": "d_arrows"},
   "mark": {"type": "point", "filled": true, "shape": "M1,0L-1,-0.75L-0.4,0L-1,0.75Z", "size": 190, "color": "#000000", "opacity": 1, "strokeWidth": 0},
   "encoding": {"angle": {"field": "dir", "type": "quantitative", "scale": null}}}
]
}
]
}
